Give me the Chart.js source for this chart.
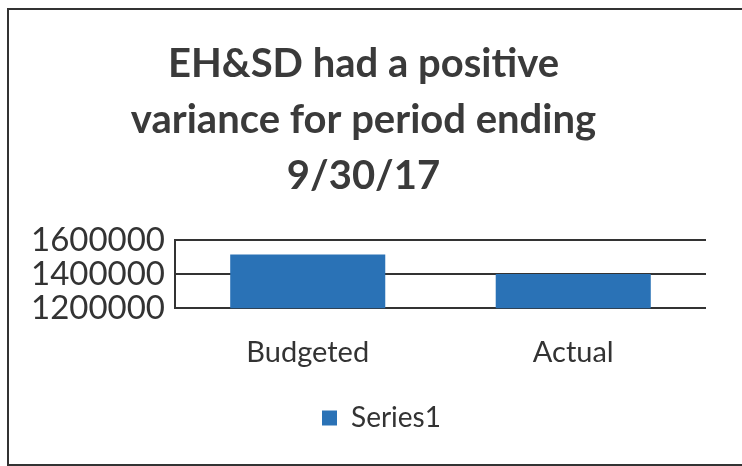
<!DOCTYPE html>
<html>
<head>
<meta charset="utf-8">
<script src="https://cdn.jsdelivr.net/npm/chart.js@4"></script>
<style>
html,body{margin:0;padding:0;background:#fff;overflow:hidden}
#box{position:absolute;left:7px;top:8px;width:760px;height:454px;border:2px solid #333;border-right:none}
</style>
</head>
<body>
<div id="box"><canvas id="grafica" width="735" height="454"></canvas></div>
<script>
let categorias = ["Budgeted","Actual"]
let serie1 = [1515000,1401000]
let ticksY = [1200000,1400000,1600000]
let titulo = ["EH&SD had a positive","variance for period ending","9/30/17"]

// la leyenda va un poco a la derecha en el original
let moverLeyenda = {
id:'moverLeyenda',
afterLayout(c){
c.legend.left += 18
c.legend.right += 18
}
}

let chart = new Chart(document.getElementById("grafica"),{
type:'bar',
data:{
labels:categorias,
datasets:[{
label:'Series1',
data:serie1,
backgroundColor:'#2a72b6',
categoryPercentage:1,
barPercentage:0.584
}]
},
options:{
responsive:false,
animation:false,
layout:{padding:{top:26,right:38,left:12,bottom:22}},
plugins:{
title:{
display:true,
text:titulo,
color:'#3a3a3a',
font:{family:'Lato',size:40,weight:'bold',lineHeight:1.4},
padding:{top:0,bottom:36}
},
legend:{
position:'bottom',
labels:{
color:'#333',
font:{family:'Lato',size:28},
boxWidth:15,
boxHeight:15,
padding:10
}
},
tooltip:{enabled:false}
},
scales:{
x:{
grid:{display:false},
border:{display:false},
ticks:{color:'#333',font:{family:'Lato',size:29},padding:19},
afterFit:(ax)=>{ax.height+=5}
},
y:{
min:ticksY[0],
max:ticksY[ticksY.length-1],
afterBuildTicks:(ax)=>{ax.ticks=ticksY.map(v=>({value:v}))},
grid:{color:'#333',lineWidth:2,drawTicks:false},
border:{color:'#333',width:2},
ticks:{color:'#333',font:{family:'Lato',size:33},padding:10,autoSkip:false,callback:(v)=>String(v)}
}
}
},
plugins:[moverLeyenda]
})
</script>
</body>
</html>
